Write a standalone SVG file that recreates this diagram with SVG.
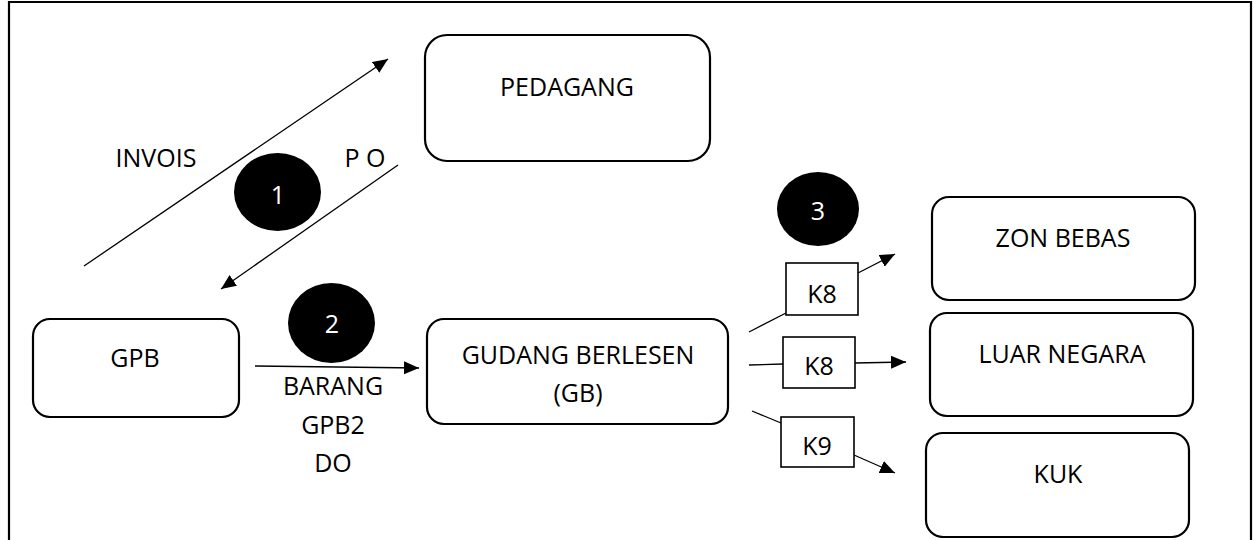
<svg xmlns="http://www.w3.org/2000/svg" width="1254" height="540" viewBox="0 0 1254 540">
<style>
.box{fill:#fff;stroke:#000;stroke-width:2.2}
.kbox{fill:#fff;stroke:#000;stroke-width:1.6}
.t{font-family:"Open Sans","Liberation Sans",sans-serif;font-size:25px;fill:#000;text-anchor:middle}
.w{fill:#fff}
.c{fill:#000}
.ln{stroke:#000;stroke-width:1.3;fill:none}
.arr{marker-end:url(#ah)}
</style>
<defs>
<marker id="ah" markerUnits="userSpaceOnUse" markerWidth="16" markerHeight="14" refX="15" refY="6.5" orient="auto">
<path d="M0,0 L15,6.5 L0,13 Z" fill="#000"/>
</marker>
</defs>
<rect width="1254" height="540" fill="#fff"/>
<path d="M9,540 V2 H1251 V540" fill="none" stroke="#000" stroke-width="2.2"/>

<g id="pedagang"><rect class="box" x="425" y="35" width="285" height="126" rx="22"/><text class="t" x="567" y="96">PEDAGANG</text></g>
<g id="gpb"><rect class="box" x="33" y="319" width="206" height="98" rx="17"/><text class="t" x="135" y="367">GPB</text></g>
<g id="gb"><rect class="box" x="427" y="319" width="301" height="105" rx="17"/><text class="t" x="578" y="364">GUDANG BERLESEN</text><text class="t" x="578" y="402">(GB)</text></g>
<g id="zon-bebas"><rect class="box" x="932" y="197" width="263" height="103" rx="17"/><text class="t" x="1063" y="247">ZON BEBAS</text></g>
<g id="luar-negara"><rect class="box" x="930" y="313" width="263" height="103" rx="17"/><text class="t" x="1062" y="363">LUAR NEGARA</text></g>
<g id="kuk"><rect class="box" x="926" y="433" width="263" height="104" rx="17"/><text class="t" x="1058" y="483">KUK</text></g>

<g id="step1"><ellipse class="c" cx="277.5" cy="192" rx="43.5" ry="39"/><text class="t w" x="278" y="204">1</text></g>
<g id="step2"><ellipse class="c" cx="331.5" cy="323" rx="43.5" ry="40"/><text class="t w" x="332" y="333">2</text></g>
<g id="step3"><ellipse class="c" cx="818" cy="209" rx="41" ry="37"/><text class="t w" x="818" y="220">3</text></g>

<g id="connectors">
<line class="ln arr" x1="84" y1="266" x2="388" y2="59"/>
<line class="ln arr" x1="398" y1="165" x2="221" y2="289"/>
<line class="ln arr" x1="255" y1="366" x2="419" y2="368"/>
<line class="ln" x1="749" y1="332" x2="786" y2="313"/>
<line class="ln arr" x1="858" y1="273" x2="895" y2="254"/>
<line class="ln" x1="749" y1="365" x2="783" y2="364"/>
<line class="ln arr" x1="855" y1="363" x2="906" y2="362"/>
<line class="ln" x1="752" y1="411" x2="781" y2="423"/>
<line class="ln arr" x1="854" y1="455" x2="895" y2="473"/>
</g>

<g id="labels">
<text class="t" x="156" y="167">INVOIS</text>
<text class="t" x="365" y="167">P O</text>
<text class="t" x="333" y="395">BARANG</text>
<text class="t" x="333" y="434">GPB2</text>
<text class="t" x="333" y="472">DO</text>
</g>

<g id="k8-zon"><rect class="kbox" x="786" y="263" width="72" height="52"/><text class="t" x="822" y="303">K8</text></g>
<g id="k8-luar"><rect class="kbox" x="783" y="337" width="72" height="51"/><text class="t" x="819" y="375">K8</text></g>
<g id="k9-kuk"><rect class="kbox" x="781" y="417" width="73" height="50"/><text class="t" x="817" y="455">K9</text></g>
</svg>
